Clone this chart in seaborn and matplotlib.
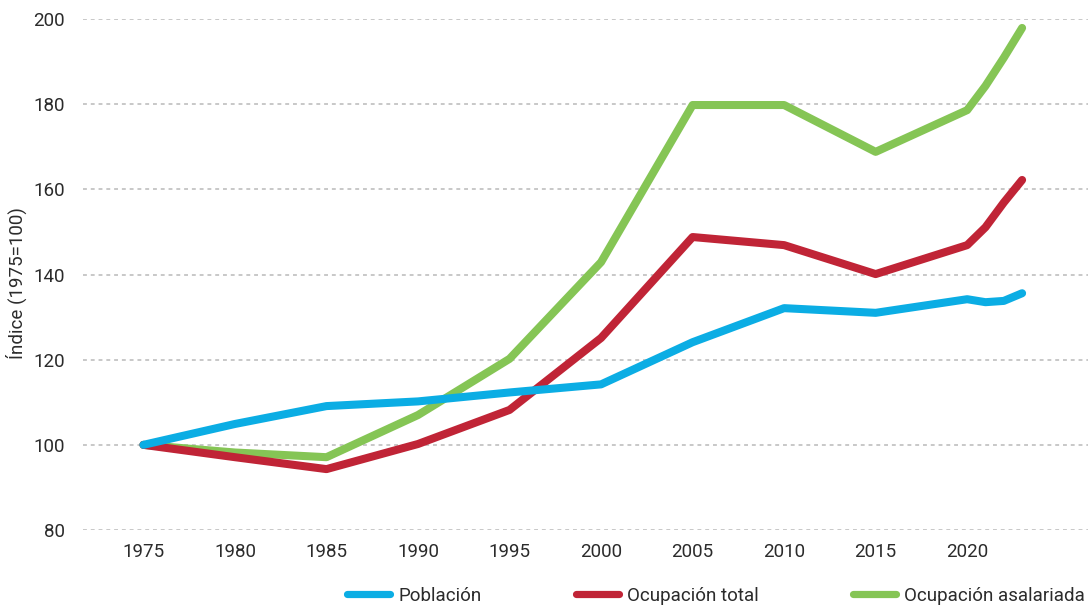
import pandas as pd
import seaborn as sns
import matplotlib.pyplot as plt

# data (index 1975=100)
years = [1975, 1980, 1985, 1990, 1995, 2000, 2005, 2010, 2015, 2020, 2021, 2022, 2023]
poblacion = [100, 104.9, 109.1, 110.2, 112.3, 114.2, 124.1, 132.1, 131.0, 134.2, 133.5, 133.8, 135.6]
ocup_total = [100, 97.1, 94.3, 100.2, 108.2, 125.1, 148.8, 146.9, 140.1, 146.9, 151.1, 156.9, 162.2]
ocup_asal = [100, 98.2, 97.1, 107.0, 120.2, 142.9, 179.8, 179.8, 168.8, 178.6, 184.3, 190.9, 197.9]
series_names = ["Población", "Ocupación total", "Ocupación asalariada"]
colors = ["#0BADE4", "#C02436", "#85C555"]
x_ticks = [1975, 1980, 1985, 1990, 1995, 2000, 2005, 2010, 2015, 2020]
y_ticks = [80, 100, 120, 140, 160, 180, 200]

df = pd.DataFrame({
    "year": years * 3,
    "value": poblacion + ocup_total + ocup_asal,
    "serie": [series_names[0]] * len(years) + [series_names[1]] * len(years) + [series_names[2]] * len(years),
})

sns.set_style("white")
plt.rcParams["font.family"] = ["Roboto", "DejaVu Sans"]
txt_col = "#2b2b2b"

fig = plt.figure(figsize=(10.88, 6.09), dpi=100)
ax = fig.add_axes([0.0763, 0.1297, 0.9237, 0.8391])

# draw in reverse so blue sits on top
for name, col in reversed(list(zip(series_names, colors))):
    sns.lineplot(data=df[df.serie == name], x="year", y="value", color=col,
                 linewidth=5.8, solid_capstyle="round", solid_joinstyle="round",
                 ax=ax, legend=False)

ax.set_xlim(1971.7, 2026.6)
ax.set_ylim(80, 200)
ax.set_xticks(x_ticks)
ax.set_yticks(y_ticks)
ax.yaxis.grid(True, color="#c8c8c8", linestyle=(0, (2, 2)), linewidth=1.4)
ax.xaxis.grid(False)
ax.set_axisbelow(True)
for s in ax.spines.values():
    s.set_visible(False)
ax.tick_params(axis="both", length=0, labelsize=13.5, colors=txt_col)
ax.tick_params(axis="x", pad=9)
ax.tick_params(axis="y", pad=13)
ax.set_xlabel("")
ax.set_ylabel("Índice (1975=100)", fontsize=13.5, color=txt_col)
ax.yaxis.set_label_coords(-0.056, 0.483)

handles = []
for name, col in zip(series_names, colors):
    handles.append(plt.Line2D([], [], color=col, linewidth=5.2, label=name))
fig.legend(handles=handles, loc="center right", bbox_to_anchor=(1085 / 1088, 1 - 596 / 609), ncol=3,
           frameon=False, fontsize=13.5, handlelength=2.3, handletextpad=0.45,
           columnspacing=5.0, borderpad=0, borderaxespad=0, labelcolor=txt_col)

fig.savefig("out.png", dpi=100)
